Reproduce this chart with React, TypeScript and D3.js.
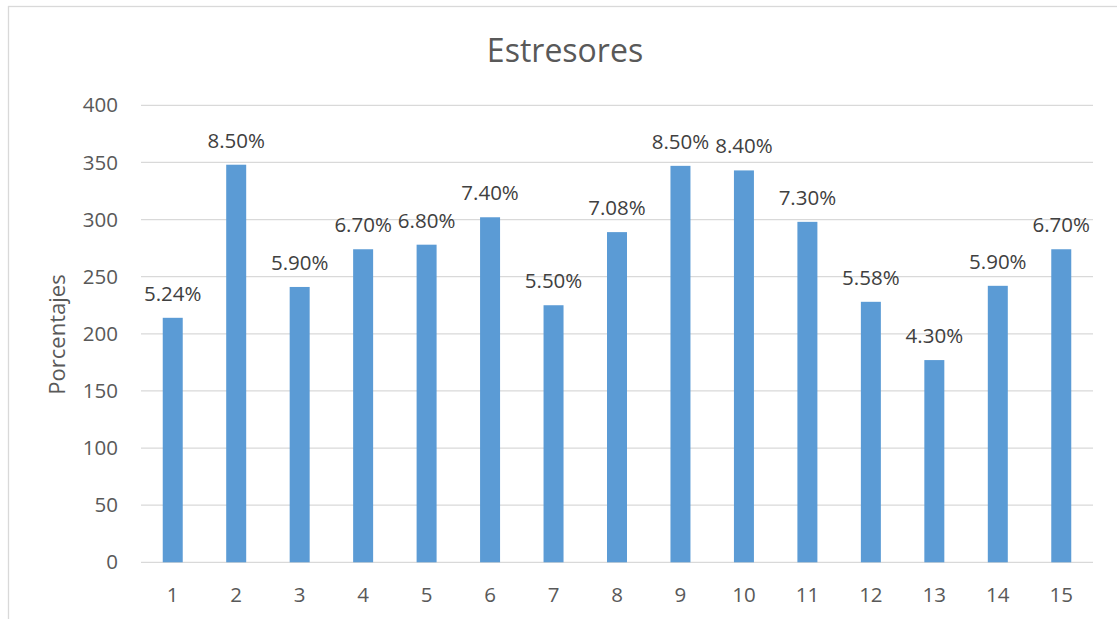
import React from "react";
import * as d3 from "d3";

const categories = ["1","2","3","4","5","6","7","8","9","10","11","12","13","14","15"];
const values = [214, 348, 241, 274, 278, 302, 225, 289, 347, 343, 298, 228, 177, 242, 274];
const labels = ["5.24%","8.50%","5.90%","6.70%","6.80%","7.40%","5.50%","7.08%","8.50%","8.40%","7.30%","5.58%","4.30%","5.90%","6.70%"];
const yTicks = [0, 50, 100, 150, 200, 250, 300, 350, 400];
const title = "Estresores";
const yTitle = "Porcentajes";

const W = 1117, H = 619;
const FONT = "'Open Sans', sans-serif";

export default function App() {
  const x = d3.scaleBand<string>().domain(categories).range([141, 1093]).paddingInner(0.685).paddingOuter(0.3425);
  const y = d3.scaleLinear().domain([0, 400]).range([562.3, 105.3]);
  return (
    <svg width={W} height={H} style={{ position: "absolute", left: 0, top: 0, display: "block", background: "#fff" }}>
      <rect x={8.5} y={6.5} width={1300} height={800} fill="#fff" stroke="#D9D9D9" strokeWidth={1.3} />
      <text x={565} y={61.5} textAnchor="middle" fontFamily={FONT} fontSize={32} fill="#595959">{title}</text>
      {yTicks.map(t => (
        <g key={t}>
          <line x1={141} x2={1093} y1={y(t)} y2={y(t)} stroke="#D9D9D9" strokeWidth={1.3} />
          <text x={118} y={y(t)} dy="0.35em" textAnchor="end" fontFamily={FONT} fontSize={20.5} fill="#595959">{t}</text>
        </g>
      ))}
      {categories.map((c, i) => (
        <g key={c}>
          <rect x={x(c)} y={y(values[i])} width={x.bandwidth()} height={y(0) - y(values[i])} fill="#5B9BD5" />
          <text x={(x(c) as number) + x.bandwidth() / 2} y={y(values[i]) - 17} textAnchor="middle" fontFamily={FONT} fontSize={20.5} fill="#404040">{labels[i]}</text>
          <text x={(x(c) as number) + x.bandwidth() / 2} y={601.5} textAnchor="middle" fontFamily={FONT} fontSize={20.5} fill="#595959">{c}</text>
        </g>
      ))}
      <text transform="translate(65,334.5) rotate(-90)" textAnchor="middle" fontFamily={FONT} fontSize={22} fill="#595959">{yTitle}</text>
    </svg>
  );
}
